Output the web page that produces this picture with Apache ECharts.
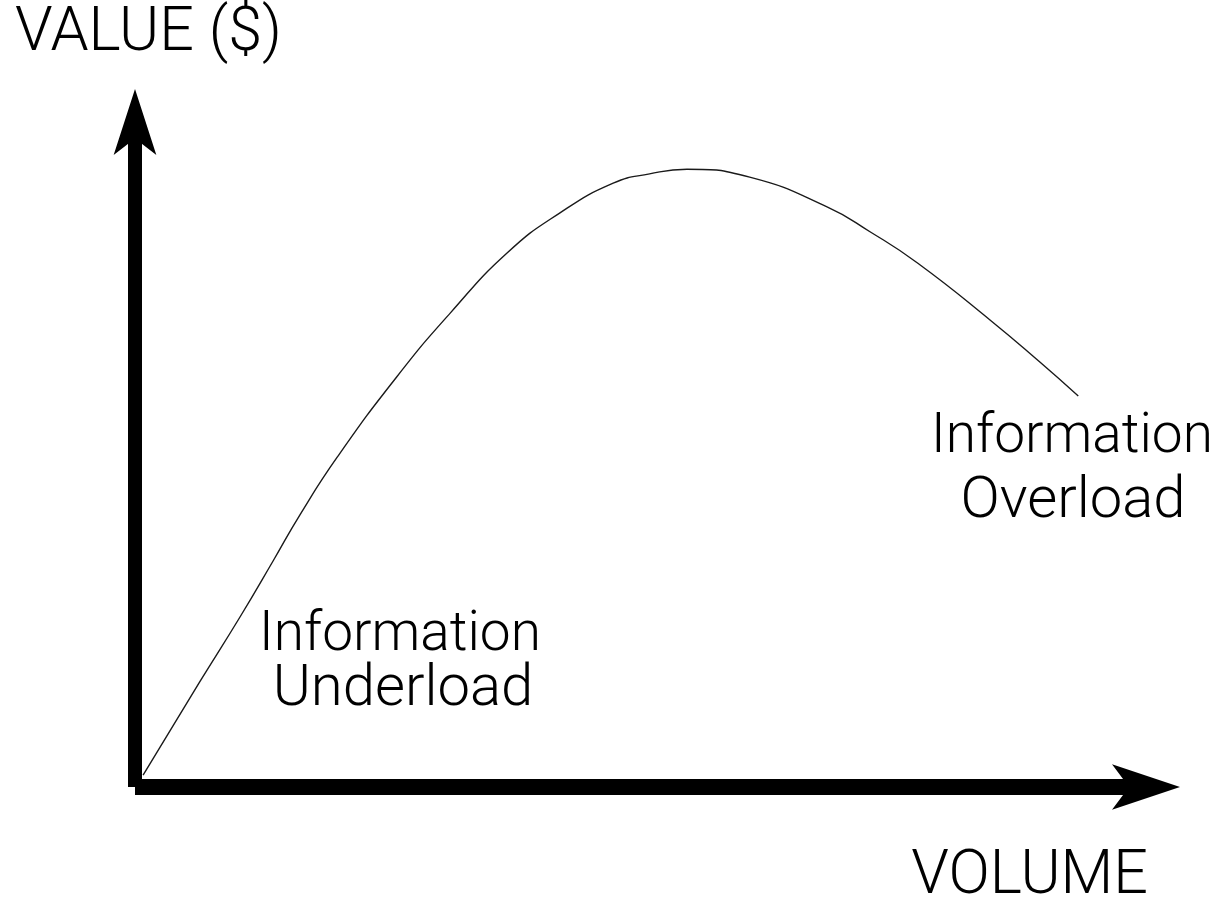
<!DOCTYPE html>
<html>
<head>
<meta charset="utf-8">
<script src="https://cdn.jsdelivr.net/npm/echarts@6/dist/echarts.min.js"></script>
<style>html,body{margin:0;padding:0;background:#fff}#c{width:1224px;height:898px}</style>
</head>
<body>
<div id="c"></div>
<script>
// Curve: volume (x) vs value (y), in axis units 0..100
const volume = [0.8, 6.4, 10.4, 13.7, 16.3, 20.0, 25.9, 31.2, 36.8, 42.0, 47.3, 50.9, 54.6, 60.8, 68.5, 72.7, 77.4, 84.6, 89.5, 93.3];
const value  = [1.8, 15.8, 25.6, 34.1, 40.9, 49.6, 61.7, 71.3, 80.3, 86.3, 90.8, 92.2, 92.9, 91.7, 87.2, 83.5, 78.8, 70.2, 63.9, 58.8];
const yAxisTitle = 'VALUE ($)';
const xAxisTitle = 'VOLUME';
const underloadLines = ['Information', 'Underload'];
const overloadLines = ['Information', 'Overload'];

const chart = echarts.init(document.getElementById('c'));
const font = 'Roboto, "Liberation Sans", Arial, sans-serif';
const txt = (s, x, y, align, size) => ({
  type: 'text', x: x, y: y,
  style: { text: s, fill: '#000', font: '300 ' + size + 'px ' + font, textAlign: align, textVerticalAlign: 'middle' }
});
chart.setOption({
  animation: false,
  backgroundColor: '#fff',
  grid: { left: 135, top: 122, right: 78, bottom: 111 },
  xAxis: {
    type: 'value', min: 0, max: 100,
    axisLine: { show: true, lineStyle: { color: '#000', width: 16, cap: 'butt' }, symbol: ['none', 'arrow'], symbolSize: [34, 68], symbolOffset: [0, 34] },
    axisTick: { show: false }, axisLabel: { show: false }, splitLine: { show: false }
  },
  yAxis: {
    type: 'value', min: 0, max: 100,
    axisLine: { show: true, lineStyle: { color: '#000', width: 14, cap: 'butt' }, symbol: ['none', 'arrow'], symbolSize: [32, 66], symbolOffset: [0, 33] },
    axisTick: { show: false }, axisLabel: { show: false }, splitLine: { show: false }
  },
  series: [{
    type: 'line', smooth: true, showSymbol: false,
    data: volume.map((v, i) => [v, value[i]]),
    lineStyle: { color: '#1a1a1a', width: 1.4 }
  }],
  graphic: [
    txt(yAxisTitle, 15, 35, 'left', 61),
    txt(xAxisTitle, 1148, 878, 'right', 61),
    txt(underloadLines[0], 400, 636, 'center', 55),
    txt(underloadLines[1], 403, 690, 'center', 58),
    txt(overloadLines[0], 1072, 438, 'center', 55),
    txt(overloadLines[1], 1073, 502, 'center', 58)
  ]
});
</script>
</body>
</html>
